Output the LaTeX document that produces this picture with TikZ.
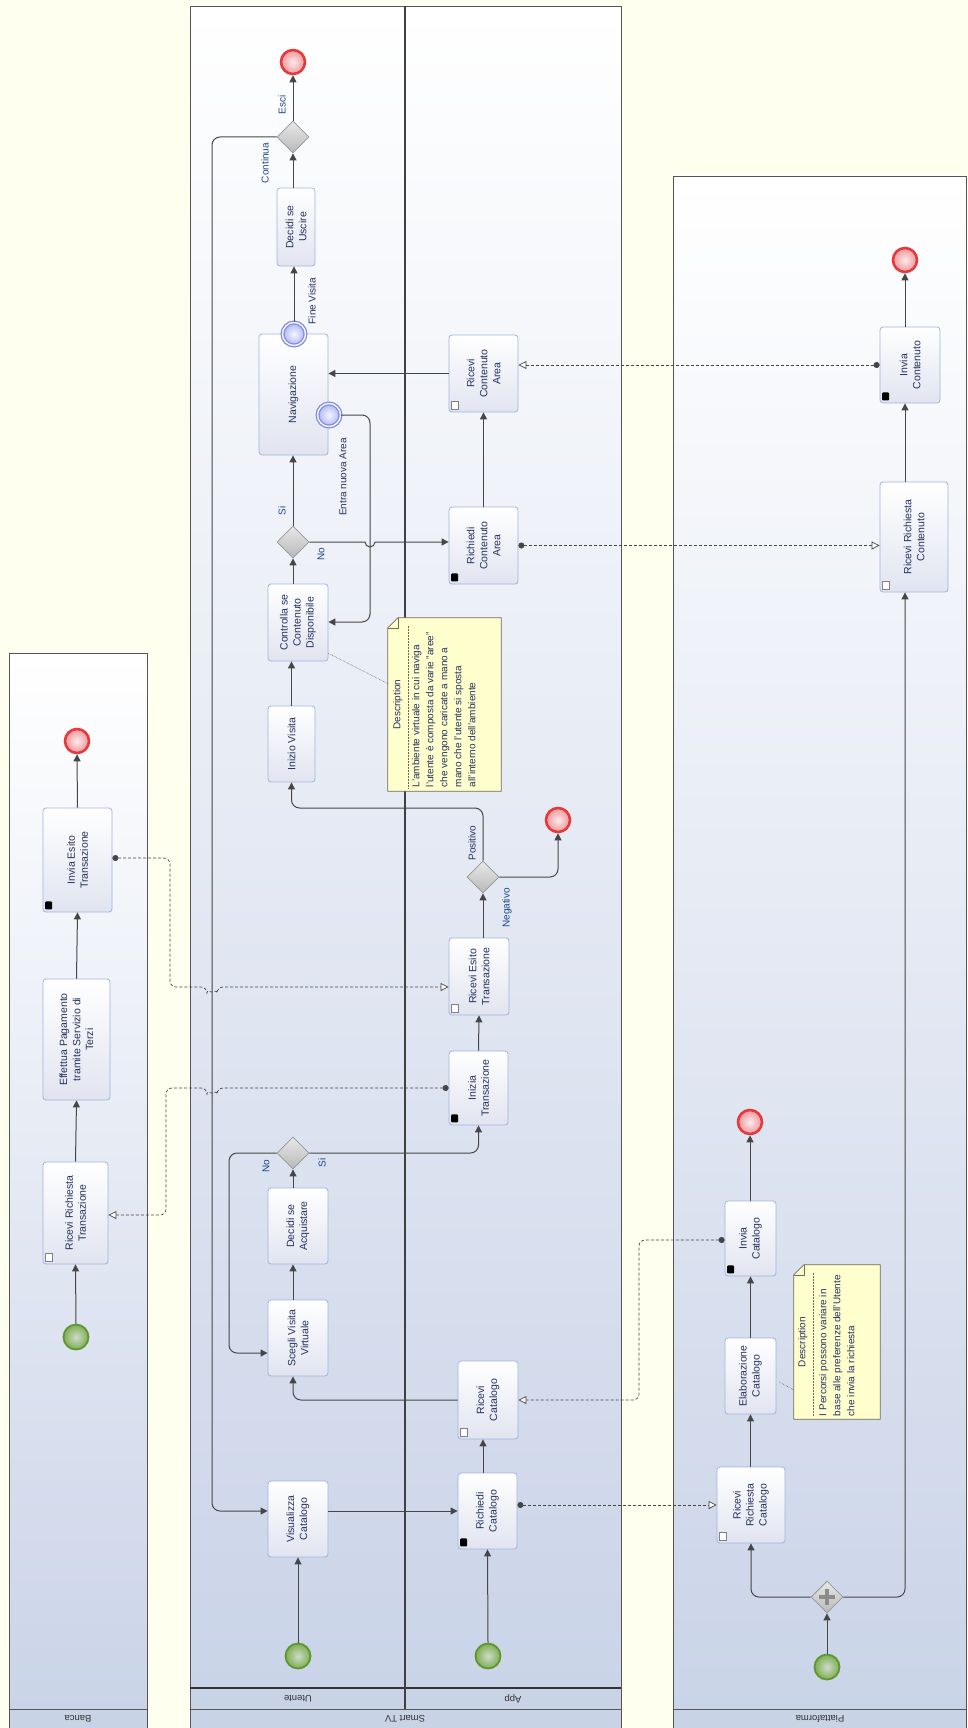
\documentclass[tikz,border=0pt]{standalone}
\usepackage{fontspec}
\setmainfont{Liberation Sans}
\usetikzlibrary{arrows.meta,shapes.geometric,calc}
\definecolor{ivory}{RGB}{255,255,240}
\definecolor{poolbot}{RGB}{202,212,232}
\definecolor{strip}{RGB}{201,211,230}
\definecolor{poolline}{RGB}{85,85,85}
\definecolor{taskbd}{RGB}{160,180,222}
\definecolor{taskbot}{RGB}{225,228,240}
\definecolor{txtc}{RGB}{35,50,95}
\definecolor{lblc}{RGB}{30,70,140}
\definecolor{flowc}{RGB}{70,70,70}
\definecolor{endred}{RGB}{228,58,60}
\definecolor{endin}{RGB}{253,236,236}
\definecolor{endout}{RGB}{238,150,156}
\definecolor{stgreen}{RGB}{95,150,45}
\definecolor{stin}{RGB}{208,218,204}
\definecolor{stout}{RGB}{125,175,80}
\definecolor{bevc}{RGB}{130,140,226}
\definecolor{bevin}{RGB}{245,246,255}
\definecolor{bevout}{RGB}{172,182,240}
\definecolor{gwbd}{RGB}{150,150,150}
\definecolor{gwtop}{RGB}{232,232,232}
\definecolor{gwbot}{RGB}{185,185,185}
\definecolor{notefill}{RGB}{255,255,206}
\definecolor{notebd}{RGB}{110,110,90}
\begin{document}
\begin{tikzpicture}[x=1pt,y=-1pt,
  task/.style={draw=taskbd, line width=0.8pt, rounded corners=3pt, top color=white, bottom color=taskbot, inner sep=0},
  tlab/.style={rotate=90, align=center, text=txtc, font=\fontsize{10.5}{13}\selectfont, inner sep=0},
  glab/.style={rotate=90, text=lblc, font=\fontsize{10}{12}\selectfont, inner sep=0},
  lanelab/.style={rotate=180, text=black!80, font=\fontsize{9.5}{11}\selectfont, inner sep=0},
  endev/.style={circle, draw=endred, line width=2.6pt, inner color=endin, outer color=endout, minimum size=24, inner sep=0},
  startev/.style={circle, draw=stgreen, line width=1.8pt, inner color=stin, outer color=stout, minimum size=25, inner sep=0},
  bev/.style={circle, draw=bevc, double=bevin, double distance=1.4pt, line width=1.3pt, inner color=bevin, outer color=bevout, minimum size=23, inner sep=0},
  gw/.style={diamond, draw=gwbd, line width=0.8pt, top color=gwtop, bottom color=gwbot, minimum width=32, minimum height=32, inner sep=0},
  sendmark/.style={fill=black, rounded corners=1pt, minimum width=7, minimum height=8, inner sep=0},
  recvmark/.style={draw=gray, fill=white, line width=0.6pt, minimum width=7, minimum height=8, inner sep=0},
  seq/.style={draw=flowc, line width=1pt, -{Triangle[length=7pt,width=7pt]}},
  msg/.style={draw=flowc, line width=0.7pt, densely dashed, {Circle[length=6pt]}-{Triangle[length=8pt,width=8pt,fill=white]}},
  assoc/.style={draw=flowc, line width=0.5pt, densely dotted},
  notebox/.style={draw=none, fill=none, inner sep=0},
  notehead/.style={rotate=90, text=txtc, font=\fontsize{10}{12}\selectfont, inner sep=0},
  notebody/.style={rotate=90, align=left, text=txtc, font=\fontsize{10}{14}\selectfont, inner sep=0},
  poolbd/.style={draw=poolline, line width=0.8pt}
]
\useasboundingbox (0,0) rectangle (968,1728);
\fill[ivory] (0,0) rectangle (968,1728);

% ---------- pools ----------
\shade[top color=white, bottom color=poolbot] (9,653) rectangle (147,1709);
\fill[strip] (9,1709) rectangle (147,1728);
\draw[poolbd] (9,1728) -- (9,653) -- (147,653) -- (147,1728);
\draw[poolbd] (9,1709) -- (147,1709);

\shade[top color=white, bottom color=poolbot] (190,6) rectangle (621,1688);
\fill[strip] (190,1688) rectangle (621,1728);
\draw[poolbd] (190,1728) -- (190,6) -- (621,6) -- (621,1728);
\draw[poolbd] (190,1709) -- (621,1709);
\draw[draw=black!80, line width=1.1pt] (190,1688) -- (621,1688);
\draw[draw=black!75, line width=1.2pt] (405,6) -- (405,1709);

\shade[top color=white, bottom color=poolbot] (673,176) rectangle (966,1709);
\fill[strip] (673,1709) rectangle (966,1728);
\draw[poolbd] (673,1728) -- (673,176) -- (966,176) -- (966,1728);
\draw[poolbd] (673,1709) -- (966,1709);

\node[lanelab] (lbanca) at (78,1718.5) {Banca};
\node[lanelab] (lsmart) at (405,1718.5) {Smart TV};
\node[lanelab] (luten) at (298,1698.5) {Utente};
\node[lanelab] (lapp) at (513,1698.5) {App};
\node[lanelab] (lpiat) at (820,1718.5) {Piattaforma};

% ---------- Banca ----------
\node[endev] (bend) at (77,741) {};
\node[task, minimum width=69, minimum height=104] (binv) at (77.5,860) {};
\node[tlab] (binv-t) at (binv) {Invia Esito\\Transazione};
\node[sendmark] (binv-m) at ($(binv.south west)+(6,-7)$) {};
\node[task, minimum width=67, minimum height=121] (beff) at (76.5,1039.5) {};
\node[tlab] (beff-t) at (beff) {Effettua Pagamento\\tramite Servizio di\\Terzi};
\node[task, minimum width=65, minimum height=102] (bric) at (75.5,1213) {};
\node[tlab] (bric-t) at (bric) {Ricevi Richiesta\\Transazione};
\node[recvmark] (bric-m) at ($(bric.south west)+(6,-7)$) {};
\node[startev] (bstart) at (76,1337) {};

% ---------- Utente ----------
\node[endev] (uend) at (293,62) {};
\node[gw] (ugw3) at (293,137) {};
\node[task, minimum width=38, minimum height=78] (udecu) at (296,227) {};
\node[tlab] (udecu-t) at (udecu) {Decidi se\\Uscire};
\node[task, minimum width=69, minimum height=121] (unav) at (293.5,394.5) {};
\node[tlab] (unav-t) at (unav) {Navigazione};
\node[bev] (ufine) at (294,334) {};
\node[bev] (uentra) at (329,415) {};
\node[gw] (ugw2) at (293,542) {};
\node[task, minimum width=60, minimum height=77] (ucontr) at (298,622.5) {};
\node[tlab] (ucontr-t) at (ucontr) {Controlla se\\Contenuto\\Disponibile};
\node[task, minimum width=47, minimum height=76] (uiniz) at (291.5,744) {};
\node[tlab] (uiniz-t) at (uiniz) {Inizio Visita};
\node[gw] (ugw1) at (293,1153) {};
\node[task, minimum width=60, minimum height=76] (udeca) at (298,1226) {};
\node[tlab] (udeca-t) at (udeca) {Decidi se\\Acquistare};
\node[task, minimum width=60, minimum height=76] (uscegli) at (298,1338) {};
\node[tlab] (uscegli-t) at (uscegli) {Scegli Visita\\Virtuale};
\node[task, minimum width=60, minimum height=76] (uvis) at (298,1519) {};
\node[tlab] (uvis-t) at (uvis) {Visualizza\\Catalogo};
\node[startev] (ustart) at (298,1656) {};

% ---------- App ----------
\node[task, minimum width=69, minimum height=77] (aricc) at (483.5,373.5) {};
\node[tlab] (aricc-t) at (aricc) {Ricevi\\Contenuto\\Area};
\node[recvmark] (aricc-m) at ($(aricc.south west)+(6,-7)$) {};
\node[task, minimum width=69, minimum height=77] (arichc) at (483.5,545.5) {};
\node[tlab] (arichc-t) at (arichc) {Richiedi\\Contenuto\\Area};
\node[sendmark] (arichc-m) at ($(arichc.south west)+(6,-7)$) {};
\node[endev] (aend) at (558,820) {};
\node[gw] (agw) at (483,877) {};
\node[task, minimum width=60, minimum height=77] (aresito) at (479,976.5) {};
\node[tlab] (aresito-t) at (aresito) {Ricevi Esito\\Transazione};
\node[recvmark] (aresito-m) at ($(aresito.south west)+(6,-7)$) {};
\node[task, minimum width=59, minimum height=74] (ainiz) at (478.5,1088) {};
\node[tlab] (ainiz-t) at (ainiz) {Inizia\\Transazione};
\node[sendmark] (ainiz-m) at ($(ainiz.south west)+(6,-7)$) {};
\node[task, minimum width=60, minimum height=78] (aricat) at (488,1400) {};
\node[tlab] (aricat-t) at (aricat) {Ricevi\\Catalogo};
\node[recvmark] (aricat-m) at ($(aricat.south west)+(6,-7)$) {};
\node[task, minimum width=59, minimum height=76] (arichcat) at (487.5,1511) {};
\node[tlab] (arichcat-t) at (arichcat) {Richiedi\\Catalogo};
\node[sendmark] (arichcat-m) at ($(arichcat.south west)+(6,-7)$) {};
\node[startev] (astart) at (488,1656) {};

% ---------- Piattaforma ----------
\node[endev] (pend1) at (905,260) {};
\node[task, minimum width=60, minimum height=76] (pinvc) at (910,365) {};
\node[tlab] (pinvc-t) at (pinvc) {Invia\\Contenuto};
\node[sendmark] (pinvc-m) at ($(pinvc.south west)+(6,-7)$) {};
\node[task, minimum width=68, minimum height=110] (pricc) at (914,537) {};
\node[tlab] (pricc-t) at (pricc) {Ricevi Richiesta\\Contenuto};
\node[recvmark] (pricc-m) at ($(pricc.south west)+(6,-7)$) {};
\node[endev] (pend2) at (750,1122) {};
\node[task, minimum width=51, minimum height=75] (pinvcat) at (750.5,1238.5) {};
\node[tlab] (pinvcat-t) at (pinvcat) {Invia\\Catalogo};
\node[sendmark] (pinvcat-m) at ($(pinvcat.south west)+(6,-7)$) {};
\node[task, minimum width=51, minimum height=76] (pelab) at (750.5,1376) {};
\node[tlab] (pelab-t) at (pelab) {Elaborazione\\Catalogo};
\node[task, minimum width=68, minimum height=76] (pricat) at (751,1505) {};
\node[tlab] (pricat-t) at (pricat) {Ricevi\\Richiesta\\Catalogo};
\node[recvmark] (pricat-m) at ($(pricat.south west)+(6,-7)$) {};
\node[gw] (pgw) at (827,1597) {};
\draw[line width=3.5pt, draw=black!45] ($(pgw.center)+(-8,0)$) -- ($(pgw.center)+(8,0)$);
\draw[line width=3.5pt, draw=black!45] ($(pgw.center)+(0,-8)$) -- ($(pgw.center)+(0,8)$);
\node[startev] (pstart) at (827,1667) {};

% ---------- helper coordinates ----------
\coordinate (nob) at (229,1353);
\coordinate (noa) at (229,1153);
\coordinate (posc) at (483,808);
\coordinate (ent1) at (370,415);
\coordinate (ent2) at (370,622);
\coordinate (lt) at (212,137);
\coordinate (lb) at (212,1511);
\coordinate (ma1) at (170,858);
\coordinate (ma2) at (170,987);
\coordinate (mb1) at (166,1088);
\coordinate (mb2) at (166,1215);
\coordinate (md1) at (639,1240);
\coordinate (md2) at (639,1400);

% ---------- sequence flows ----------
\draw[seq] (bstart.north) -- (bric.south);
\draw[seq] (bric.north) -- (beff.south);
\draw[seq] (beff.north) -- (binv.south);
\draw[seq] (binv.north) -- (bend.south);

\draw[seq] (ustart.north) -- (uvis.south);
\draw[seq] (uvis.east |- arichcat.west) -- (arichcat.west);
\draw[seq] (astart.north) -- (arichcat.south);
\draw[seq] (arichcat.north -| agw) -- (aricat.south -| agw);
\draw[seq, rounded corners=8pt] (aricat.west) -| (uscegli.south -| ugw1);
\draw[seq] (uscegli.north -| ugw1) -- (udeca.south -| ugw1);
\draw[seq] (udeca.north -| ugw1) -- (ugw1.south);
\draw[seq, rounded corners=8pt] (ugw1.west) -- (noa) -- (nob) -- (uscegli.west |- nob);
\draw[seq, rounded corners=8pt] (ugw1.east) -| (ainiz.south);
\draw[seq] (ainiz.north) -- (aresito.south);
\draw[seq] (aresito.north -| agw) -- (agw.south);
\draw[seq, rounded corners=8pt] (agw.east) -| (aend.south);
\draw[seq, rounded corners=8pt] (agw.north) -- (posc) -| (uiniz.south);
\draw[seq] (uiniz.north) -- (uiniz.north |- ucontr.south);
\draw[seq] (ucontr.north -| ugw2) -- (ugw2.south);
\draw[seq] (ugw2.north) -- (unav.south -| ugw2);
\draw[seq] (ugw2.east) -- (365,542) arc[start angle=180, end angle=0, radius=5] -- (arichc.west |- ugw2.east);
\draw[seq] (arichc.north) -- (aricc.south);
\draw[seq] (aricc.west) -- (aricc.west -| unav.east);
\draw[seq, rounded corners=8pt] (uentra.east) -- (ent1) -- (ent2) -- (ucontr.east |- ent2);
\draw[seq] (ufine.north) -- (ufine.north |- udecu.south);
\draw[seq] (udecu.north -| ugw3) -- (ugw3.south);
\draw[seq] (ugw3.north) -- (uend.south);
\draw[seq, rounded corners=8pt] (ugw3.west) -- (lt) -- (lb) -- (uvis.west |- lb);

\draw[seq] (pstart.north) -- (pgw.south);
\draw[seq, rounded corners=8pt] (pgw.west) -| (pricat.south);
\draw[seq, rounded corners=8pt] (pgw.east) -| (pricc.south -| pend1);
\draw[seq] (pricat.north -| pelab) -- (pelab.south);
\draw[seq] (pelab.north) -- (pinvcat.south);
\draw[seq] (pinvcat.north -| pend2) -- (pend2.south);
\draw[seq] (pricc.north -| pend1) -- (pinvc.south -| pend1);
\draw[seq] (pinvc.north -| pend1) -- (pend1.south);

% ---------- message flows ----------
\draw[msg, rounded corners=6pt] (binv.east |- ma1) -- (ma1) -- (ma2) -- (207,987) arc[start angle=180, end angle=0, radius=5] -- (aresito.west |- ma2);
\draw[msg, rounded corners=6pt] (ainiz.west |- mb1) -- (217,1088) arc[start angle=0, end angle=180, radius=5] -- (mb1) -- (mb2) -- (bric.east |- mb2);
\draw[msg] (arichcat.east |- pricat.west) -- (pricat.west);
\draw[msg, rounded corners=6pt] (pinvcat.west |- md1) -- (md1) -- (md2) -- (aricat.east |- md2);
\draw[msg] (arichc.east) -- (arichc.east -| pricc.west);
\draw[msg] (pinvc.west) -- (pinvc.west -| aricc.east);

% ---------- flow labels ----------
\node[glab] (l-esci) at (282,105) {Esci};
\node[glab] (l-cont) at (265,163) {Continua};
\node[glab, text=txtc] (l-fine) at (312,301) {Fine Visita};
\node[glab, text=txtc] (l-entra) at (343,477) {Entra nuova Area};
\node[glab] (l-si2) at (282,511) {Si};
\node[glab] (l-no2) at (321,554) {No};
\node[glab, text=txtc] (l-pos) at (472,843) {Positivo};
\node[glab] (l-neg) at (507,908) {Negativo};
\node[glab] (l-no1) at (266,1166) {No};
\node[glab] (l-si1) at (322,1163) {Si};

% ---------- notes ----------
\node[notebox, minimum width=113, minimum height=173] (note1) at (444.5,704.5) {};
\filldraw[fill=notefill, draw=notebd, line width=0.8pt] ($(note1.north west)+(0,10)$) -- ($(note1.north west)+(10,0)$) -- (note1.north east) -- (note1.south east) -- (note1.south west) -- cycle;
\draw[draw=notebd, line width=0.6pt] ($(note1.north west)+(0,10)$) -- ($(note1.north west)+(10,10)$) -- ($(note1.north west)+(10,0)$);
\draw[draw=black!60, line width=0.5pt, densely dotted] ($(note1.north west)+(20,8)$) -- ($(note1.south west)+(20,-3)$);
\node[notehead] (note1-h) at ($(note1.west)+(10,0)$) {Description};
\node[notebody, anchor=north west] (note1-b) at ($(note1.south west)+(24,-4)$) {L'ambiente virtuale in cui naviga\\l'utente è composta da varie "aree"\\che vengono caricate a mano a\\mano che l'utente si sposta\\all'interno dell'ambiente};
\draw[assoc] ($(ucontr.south east)+(0,-8)$) -- ($(note1.west)+(0,-21)$);

\node[notebox, minimum width=86, minimum height=154] (note2) at (837,1342) {};
\filldraw[fill=notefill, draw=notebd, line width=0.8pt] ($(note2.north west)+(0,10)$) -- ($(note2.north west)+(10,0)$) -- (note2.north east) -- (note2.south east) -- (note2.south west) -- cycle;
\draw[draw=notebd, line width=0.6pt] ($(note2.north west)+(0,10)$) -- ($(note2.north west)+(10,10)$) -- ($(note2.north west)+(10,0)$);
\draw[draw=black!60, line width=0.5pt, densely dotted] ($(note2.north west)+(19,8)$) -- ($(note2.south west)+(19,-3)$);
\node[notehead] (note2-h) at ($(note2.west)+(9,0)$) {Description};
\node[notebody, anchor=north west] (note2-b) at ($(note2.south west)+(25,-3)$) {I Percorsi possono variare in\\base alle preferenze dell'Utente\\che invia la richiesta};
\draw[assoc] ($(pelab.east)+(3,6)$) -- ($(note2.west)+(0,48)$);
\end{tikzpicture}
\end{document}
